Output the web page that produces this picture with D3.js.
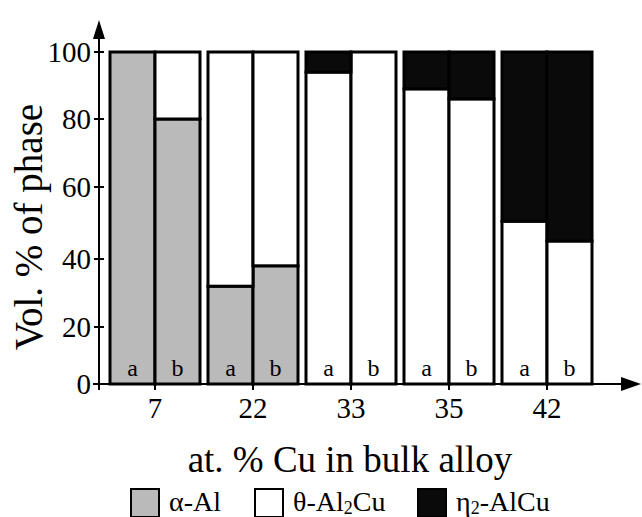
<!DOCTYPE html>
<html>
<head>
<meta charset="utf-8">
<script src="https://cdn.jsdelivr.net/npm/d3@7"></script>
<style>
  body { margin: 0; background: #fff; }
  text { font-family: "Liberation Serif", "Times New Roman", serif; fill: #000; }
</style>
</head>
<body>
<div id="grafico"></div>
<script>
// Datos
const composiciones = ["7", "22", "33", "35", "42"];
const muestras = ["a", "b"];
// orden: 7a, 7b, 22a, 22b, 33a, 33b, 35a, 35b, 42a, 42b
const alfaAl   = [100, 80, 32, 38, 0, 0, 0, 0, 0, 0];
const thetaAl2Cu = [0, 20, 68, 62, 94, 100, 89, 86, 50.5, 45];
const eta2AlCu = [0, 0, 0, 0, 6, 0, 11, 14, 49.5, 55];
const ticksY = [0, 20, 40, 60, 80, 100];
const fases = ["alfa", "theta", "eta"];

// Dimensiones
const width = 642;
const height = 517;

const svg = d3.select("#grafico")
    .append("svg")
    .attr("width", width)
    .attr("height", height);

// Tabla para d3.stack
const filas = [];
composiciones.forEach((c, i) => {
    muestras.forEach((m, j) => {
        const k = i * 2 + j;
        filas.push({ comp: c, muestra: m, alfa: alfaAl[k], theta: thetaAl2Cu[k], eta: eta2AlCu[k] });
    });
});

const series = d3.stack().keys(fases)(filas);

const colores = { alfa: "#bababa", theta: "#ffffff", eta: "#0a0a0a" };

// Escalas
const x = d3.scaleBand()
    .domain(composiciones)
    .range([106, 596])
    .paddingInner(0.0816)
    .paddingOuter(0.0408);

const xMuestra = d3.scaleBand()
    .domain(muestras)
    .range([0, x.bandwidth()]);

// el eje impreso no está espaciado de forma regular
const y = d3.scaleLinear()
    .domain(ticksY)
    .range([384, 327, 259, 187, 119, 52]);

const ejeX = 99;

// Barras apiladas
series.forEach(s => {
    svg.append("g")
        .selectAll("rect")
        .data(s.filter(d => d[1] - d[0] > 0))
        .enter()
        .append("rect")
        .attr("x", d => x(d.data.comp) + xMuestra(d.data.muestra))
        .attr("y", d => y(d[1]))
        .attr("width", xMuestra.bandwidth())
        .attr("height", d => y(d[0]) - y(d[1]))
        .attr("fill", colores[s.key])
        .attr("stroke", "#000")
        .attr("stroke-width", 3);
});

// Letras a / b
svg.append("g")
    .selectAll("text")
    .data(filas)
    .enter()
    .append("text")
    .attr("x", d => x(d.comp) + xMuestra(d.muestra) + xMuestra.bandwidth() / 2)
    .attr("y", y(0) - 8)
    .attr("text-anchor", "middle")
    .style("font-size", "24px")
    .text(d => d.muestra);

// Eje Y
const gy = svg.append("g");
gy.append("line")
    .attr("x1", ejeX).attr("x2", ejeX)
    .attr("y1", y(0) + 6).attr("y2", 34)
    .attr("stroke", "#000").attr("stroke-width", 2);
gy.append("path")
    .attr("d", `M${ejeX},20 L${ejeX - 6},39 L${ejeX + 6},39 Z`)
    .attr("fill", "#000");
gy.selectAll(".tick")
    .data(ticksY)
    .enter()
    .append("line")
    .attr("x1", ejeX - 5).attr("x2", ejeX + 5)
    .attr("y1", d => y(d)).attr("y2", d => y(d))
    .attr("stroke", "#000").attr("stroke-width", 2);
gy.selectAll("text")
    .data(ticksY)
    .enter()
    .append("text")
    .attr("x", ejeX - 8)
    .attr("y", d => y(d))
    .attr("dy", "0.35em")
    .attr("text-anchor", "end")
    .style("font-size", "29px")
    .text(d => d);

// Eje X
const gx = svg.append("g");
gx.append("line")
    .attr("x1", ejeX - 6).attr("x2", 625)
    .attr("y1", y(0)).attr("y2", y(0))
    .attr("stroke", "#000").attr("stroke-width", 2);
gx.append("path")
    .attr("d", `M641,${y(0)} L621,${y(0) - 7} L621,${y(0) + 7} Z`)
    .attr("fill", "#000");
gx.selectAll(".tick")
    .data(composiciones)
    .enter()
    .append("line")
    .attr("x1", d => x(d) + x.bandwidth() / 2)
    .attr("x2", d => x(d) + x.bandwidth() / 2)
    .attr("y1", y(0)).attr("y2", y(0) + 6)
    .attr("stroke", "#000").attr("stroke-width", 2);
gx.selectAll("text")
    .data(composiciones)
    .enter()
    .append("text")
    .attr("x", d => x(d) + x.bandwidth() / 2)
    .attr("y", 418)
    .attr("text-anchor", "middle")
    .style("font-size", "29px")
    .text(d => d);

// Títulos de los ejes
svg.append("text")
    .attr("transform", "translate(42,227) rotate(-90)")
    .attr("text-anchor", "middle")
    .style("font-size", "39px")
    .text("Vol. % of phase");

svg.append("text")
    .attr("x", 350)
    .attr("y", 472)
    .attr("text-anchor", "middle")
    .style("font-size", "37px")
    .text("at. % Cu in bulk alloy");

// Leyenda
const leyenda = [
    { fase: "alfa", x: 131, partes: [["α-Al", null]] },
    { fase: "theta", x: 255, partes: [["θ-Al", null], ["2", "sub"], ["Cu", null]] },
    { fase: "eta", x: 418, partes: [["η", null], ["2", "sub"], ["-AlCu", null]] }
];

const gl = svg.append("g");
leyenda.forEach(l => {
    gl.append("rect")
        .attr("x", l.x).attr("y", 489)
        .attr("width", 28).attr("height", 28)
        .attr("fill", colores[l.fase])
        .attr("stroke", "#000").attr("stroke-width", 2);
    const t = gl.append("text")
        .attr("x", l.x + 38)
        .attr("y", 511)
        .style("font-size", "28px");
    l.partes.forEach(p => {
        const ts = t.append("tspan").text(p[0]);
        if (p[1] === "sub") {
            ts.style("font-size", "18px").attr("dy", 3);
        } else if (t.selectAll("tspan").size() > 1) {
            ts.attr("dy", -3);
        }
    });
});
</script>
</body>
</html>
